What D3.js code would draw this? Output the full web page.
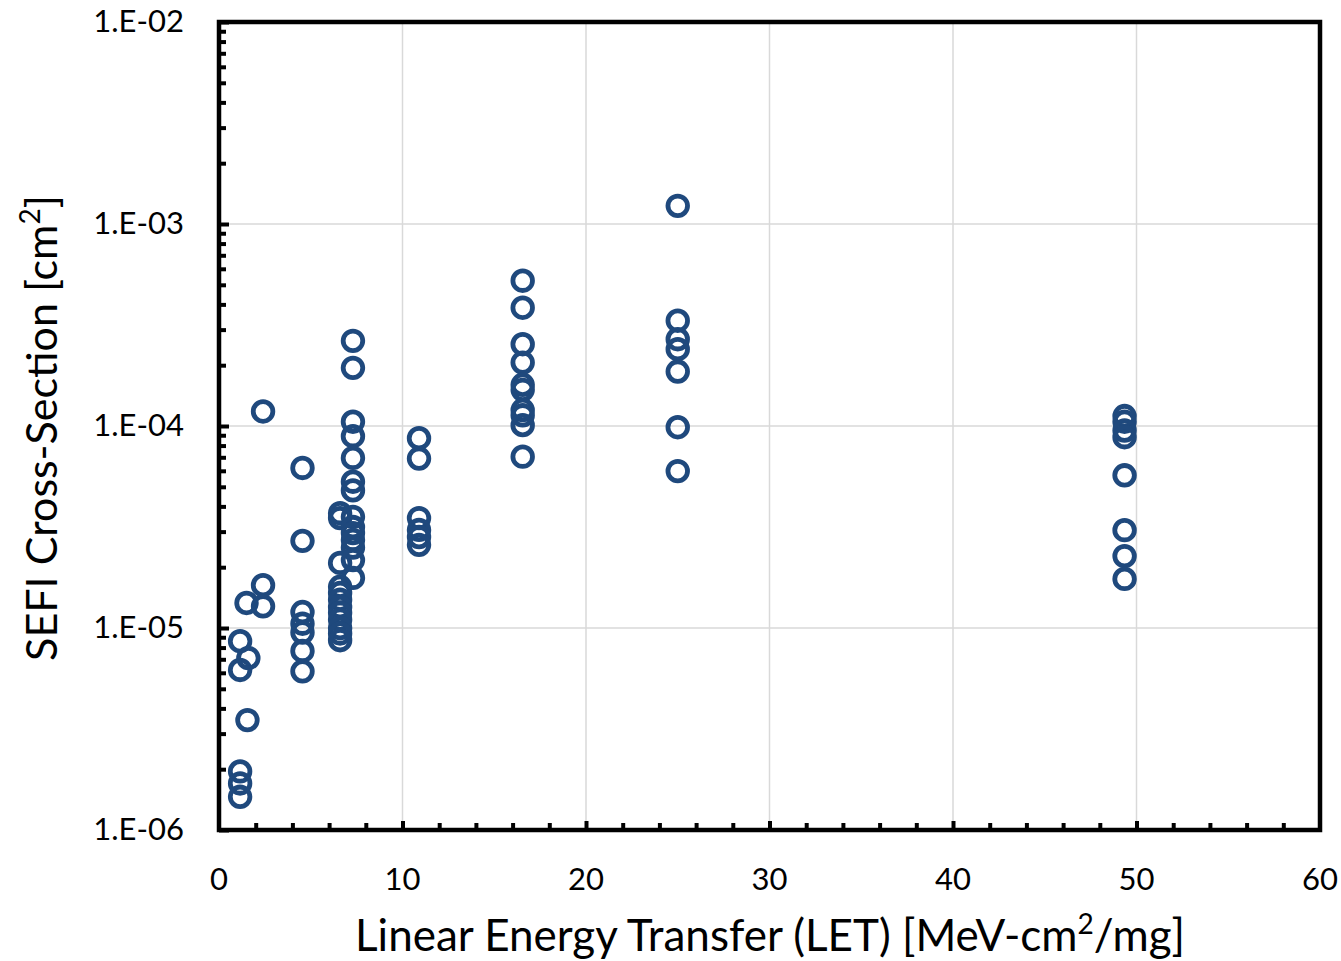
<!DOCTYPE html>
<html>
<head>
<meta charset="utf-8">
<script src="https://cdn.jsdelivr.net/npm/d3@7"></script>
<style>
  body { margin: 0; background: #fff; }
  text { font-family: Lato, "Open Sans", sans-serif; fill: #000; }
</style>
</head>
<body>
<svg id="chart" width="1341" height="961"></svg>
<script>
// LET groups and measured SEFI cross-sections
const let1 = [1.15, 1.15, 1.15, 1.15, 1.15, 1.5, 1.6, 1.55, 2.4, 2.4, 2.4];
const sig1 = [8.6e-6, 6.2e-6, 1.95e-6, 1.7e-6, 1.46e-6, 1.33e-5, 7.1e-6, 3.5e-6, 1.18e-4, 1.63e-5, 1.28e-5];

const let2 = [4.55, 4.55, 4.55, 4.55, 4.55, 4.55, 4.55];
const sig2 = [6.2e-5, 2.7e-5, 1.2e-5, 1.05e-5, 9.5e-6, 7.7e-6, 6.1e-6];

const let3 = [6.6, 6.6, 6.6, 6.6, 6.6, 6.6, 6.6, 6.6, 6.6, 6.6, 6.6, 6.6];
const sig3 = [3.7e-5, 3.5e-5, 2.1e-5, 1.6e-5, 1.49e-5, 1.38e-5, 1.27e-5, 1.19e-5, 1.1e-5, 1.0e-5, 9.4e-6, 8.7e-6];

const let4 = [7.3, 7.3, 7.3, 7.3, 7.3, 7.3, 7.3, 7.3, 7.3, 7.3, 7.3, 7.3, 7.3, 7.3];
const sig4 = [2.64e-4, 1.94e-4, 1.05e-4, 8.9e-5, 6.95e-5, 5.3e-5, 4.8e-5, 3.55e-5, 3.16e-5, 2.95e-5, 2.73e-5, 2.5e-5, 2.17e-5, 1.77e-5];

const let5 = [10.9, 10.9, 10.9, 10.9, 10.9, 10.9];
const sig5 = [8.7e-5, 6.9e-5, 3.5e-5, 3.06e-5, 2.82e-5, 2.58e-5];

const let6 = [16.55, 16.55, 16.55, 16.55, 16.55, 16.55, 16.55, 16.55, 16.55, 16.55];
const sig6 = [5.24e-4, 3.85e-4, 2.54e-4, 2.06e-4, 1.6e-4, 1.51e-4, 1.2e-4, 1.13e-4, 1.01e-4, 7.05e-5];

const let7 = [25.0, 25.0, 25.0, 25.0, 25.0, 25.0, 25.0];
const sig7 = [1.23e-3, 3.32e-4, 2.69e-4, 2.4e-4, 1.86e-4, 9.86e-5, 5.98e-5];

const let8 = [49.35, 49.35, 49.35, 49.35, 49.35, 49.35, 49.35, 49.35];
const sig8 = [1.12e-4, 1.05e-4, 9.5e-5, 8.8e-5, 5.7e-5, 3.05e-5, 2.27e-5, 1.75e-5];

const xTicks = [0, 10, 20, 30, 40, 50, 60];
const yTicks = [1e-6, 1e-5, 1e-4, 1e-3, 1e-2];
const yTickLabels = ["1.E-06", "1.E-05", "1.E-04", "1.E-03", "1.E-02"];

const allLet = [].concat(let1, let2, let3, let4, let5, let6, let7, let8);
const allSig = [].concat(sig1, sig2, sig3, sig4, sig5, sig6, sig7, sig8);
const points = allLet.map((d, i) => ({x: d, y: allSig[i]}));

const svg = d3.select("#chart");
const plotL = 219, plotR = 1320, plotT = 22, plotB = 830;

const xScale = d3.scaleLinear().domain([0, 60]).range([plotL, plotR]);
const yScale = d3.scaleLog().domain([1e-6, 1e-2]).range([plotB, plotT]);

// gridlines
svg.append("g")
    .selectAll("line")
    .data(xTicks.slice(1, -1))
    .enter()
    .append("line")
    .attr("x1", d => xScale(d)).attr("x2", d => xScale(d))
    .attr("y1", plotT).attr("y2", plotB)
    .attr("stroke", "#d9d9d9").attr("stroke-width", 1.5);
svg.append("g")
    .selectAll("line")
    .data(yTicks.slice(1, -1))
    .enter()
    .append("line")
    .attr("x1", plotL).attr("x2", plotR)
    .attr("y1", d => yScale(d)).attr("y2", d => yScale(d))
    .attr("stroke", "#d9d9d9").attr("stroke-width", 1.5);

// points
svg.append("g")
    .selectAll("circle")
    .data(points)
    .enter()
    .append("circle")
    .attr("cx", d => xScale(d.x))
    .attr("cy", d => yScale(d.y))
    .attr("r", 9.8)
    .attr("fill", "none")
    .attr("stroke", "#1f497d")
    .attr("stroke-width", 4.8);

// x axis: inward ticks, major every 10, minor every 2
const xMinor = d3.range(2, 60, 2).filter(d => d % 10 !== 0);
const xAxisMajor = d3.axisTop(xScale).tickValues(xTicks.slice(1, -1)).tickSize(9).tickFormat("");
const xAxisMinor = d3.axisTop(xScale).tickValues(xMinor).tickSize(7).tickFormat("");
[xAxisMajor, xAxisMinor].forEach(ax => {
  svg.append("g")
      .attr("class", "axis")
      .attr("transform", `translate(0, ${plotB})`)
      .call(ax);
});

// y axis: inward ticks, major each decade, minor 2..9
const yMinor = [];
yTicks.slice(0, -1).forEach(t => { for (let k = 2; k <= 9; k++) yMinor.push(t * k); });
const yAxisMajor = d3.axisRight(yScale).tickValues(yTicks).tickSize(10).tickFormat("");
const yAxisMinor = d3.axisRight(yScale).tickValues(yMinor).tickSize(7).tickFormat("");
[yAxisMajor, yAxisMinor].forEach(ax => {
  svg.append("g")
      .attr("class", "axis")
      .attr("transform", `translate(${plotL}, 0)`)
      .call(ax);
});
svg.selectAll(".axis .domain").remove();
svg.selectAll(".axis line").attr("stroke", "#000").attr("stroke-width", 4);

// frame
svg.append("rect")
    .attr("x", plotL).attr("y", plotT)
    .attr("width", plotR - plotL).attr("height", plotB - plotT)
    .attr("fill", "none").attr("stroke", "#000").attr("stroke-width", 4.5);

// tick labels
svg.append("g")
    .selectAll("text")
    .data(xTicks)
    .enter()
    .append("text")
    .attr("x", d => xScale(d))
    .attr("y", 890)
    .attr("text-anchor", "middle")
    .attr("font-size", 31)
    .text(d => d);
svg.append("g")
    .selectAll("text")
    .data(yTicks)
    .enter()
    .append("text")
    .attr("x", 184)
    .attr("y", d => yScale(d) + 10)
    .attr("text-anchor", "end")
    .attr("font-size", 31)
    .text((d, i) => yTickLabels[i]);

// axis titles
const xt = svg.append("text")
    .attr("x", 770).attr("y", 951)
    .attr("text-anchor", "middle")
    .attr("font-size", 44);
xt.append("tspan").text("Linear Energy Transfer (LET) [MeV-cm");
xt.append("tspan").attr("baseline-shift", "super").attr("font-size", 28).text("2");
xt.append("tspan").text("/mg]");

const yt = svg.append("text")
    .attr("transform", "translate(57, 428) rotate(-90)")
    .attr("text-anchor", "middle")
    .attr("font-size", 43);
yt.append("tspan").text("SEFI Cross-Section [cm");
yt.append("tspan").attr("baseline-shift", "super").attr("font-size", 28).text("2");
yt.append("tspan").text("]");
</script>
</body>
</html>
